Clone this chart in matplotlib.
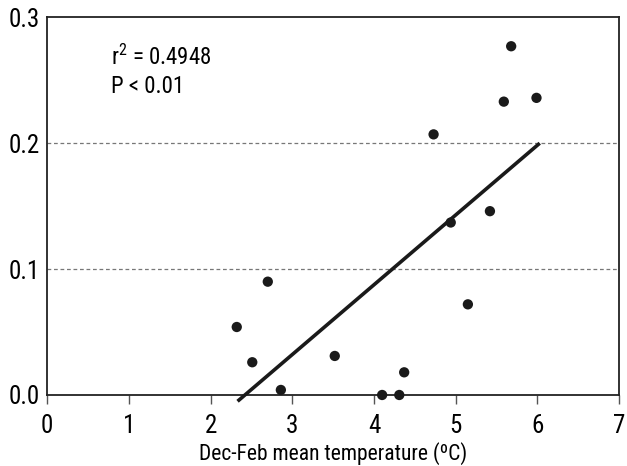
import matplotlib
matplotlib.use("Agg")
import matplotlib.pyplot as plt
from matplotlib import font_manager
import numpy as np

temp = [2.32, 2.51, 2.70, 2.86, 3.52, 4.10, 4.31, 4.37, 4.73, 4.94, 5.15, 5.42, 5.59, 5.68, 5.99]
value = [0.054, 0.026, 0.090, 0.004, 0.031, 0.000, 0.000, 0.018, 0.207, 0.137, 0.072, 0.146, 0.233, 0.277, 0.236]
fit_x = [2.33, 6.03]
fit_y = [-0.005, 0.200]
x_ticks = [0, 1, 2, 3, 4, 5, 6, 7]
y_ticks = [0.0, 0.1, 0.2, 0.3]
y_tick_labels = ["0.0", "0.1", "0.2", "0.3"]
x_label = "Dec-Feb mean temperature (ºC)"
stat_lines = ["r$^2$ = 0.4948", "P < 0.01"]

# pick a condensed font if one exists
entries = font_manager.fontManager.ttflist
chosen = None
stretch = 'normal'
for e in entries:
    if e.name in ('Liberation Sans Narrow', 'Roboto Condensed', 'Open Sans Condensed', 'DejaVu Sans Condensed'):
        chosen = e.name
        break
if chosen is None:
    for e in entries:
        if e.name in ('DejaVu Sans', 'Roboto', 'Open Sans') and e.stretch in ('condensed', 'semi-condensed', 'extra-condensed', 75, 62.5, 87.5):
            chosen = e.name
            stretch = 'condensed'
            break
if chosen is None:
    chosen = 'Roboto'

plt.rcParams['font.family'] = [chosen, 'DejaVu Sans']
plt.rcParams['font.stretch'] = stretch
plt.rcParams['mathtext.fontset'] = 'custom'
plt.rcParams['mathtext.rm'] = chosen

FS = 18

fig = plt.figure(figsize=(6.27, 4.66), dpi=100)
ax = fig.add_axes([0.0754, 0.1524, 0.9118, 0.8105])
ax.set_xlim(0, 7)
ax.set_ylim(0, 0.3)

for yv in [0.1, 0.2]:
    ax.axhline(yv, color='#777777', lw=0.9, dashes=(3, 2.2), zorder=1)

ax.plot(fit_x, fit_y, color='#1a1a1a', lw=2.6, solid_capstyle='butt', clip_on=False, zorder=3)
ax.scatter(temp, value, s=55, color='#1a1a1a', edgecolors='none', clip_on=False, zorder=4)

ax.set_xticks(x_ticks)
ax.set_xticklabels([str(t) for t in x_ticks])
ax.set_yticks(y_ticks)
ax.set_yticklabels(y_tick_labels)
ax.tick_params(axis='x', direction='out', length=6.5, width=1, color='#555555', labelsize=FS, pad=7)
ax.tick_params(axis='y', length=0, labelsize=FS, pad=5)
for sp in ax.spines.values():
    sp.set_linewidth(1.3)
    sp.set_color('#222222')

ax.set_xlabel(x_label, fontsize=15.5, labelpad=3)

ax.text(0.78, 0.262, stat_lines[0], fontsize=16.5, va='baseline', ha='left')
ax.text(0.78, 0.240, stat_lines[1], fontsize=16.5, va='baseline', ha='left')

fig.savefig("out.png", dpi=100)
